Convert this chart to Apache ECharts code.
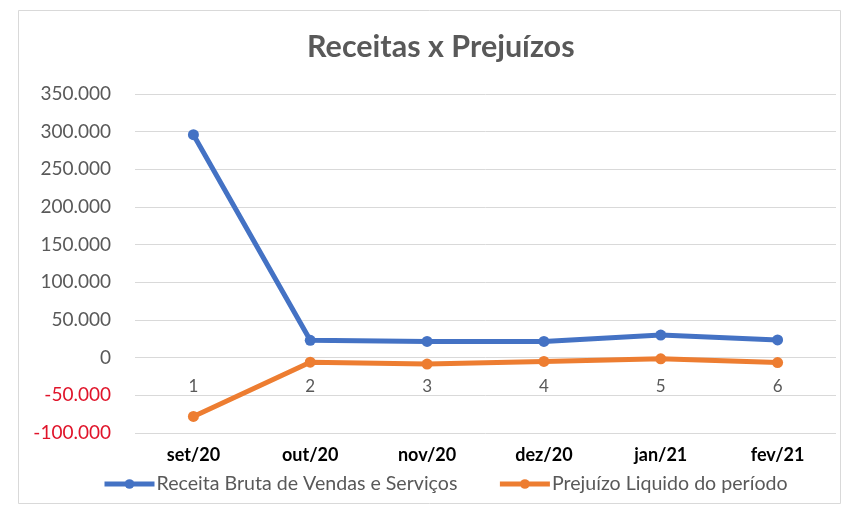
<!DOCTYPE html>
<html>
<head>
<meta charset="utf-8">
<script src="https://cdn.jsdelivr.net/npm/echarts@6/dist/echarts.min.js"></script>
<style>
  html, body { margin: 0; padding: 0; background: #ffffff; }
  #chart { width: 847px; height: 510px; }
</style>
</head>
<body>
<div id="chart"></div>
<script>
// Category index labels (shown at the zero line) and month labels (below the plot)
const indices = ['1', '2', '3', '4', '5', '6'];
const months = ['set/20', 'out/20', 'nov/20', 'dez/20', 'jan/21', 'fev/21'];

// Series values
const receitaBruta = [296000, 23000, 21500, 21500, 30000, 23500];
const prejuizoLiquido = [-78000, -6000, -8500, -5000, -1500, -6500];

// Y axis range
const yMin = -100000;
const yMax = 350000;
const yStep = 50000;

const FONT = 'Lato, "Open Sans", sans-serif';
const GRAY = '#595959';
const GRID = '#d9d9d9';

function fmt(v) {
  const s = String(Math.abs(v)).replace(/\B(?=(\d{3})+(?!\d))/g, '.');
  return v < 0 ? '-' + s : s;
}

const CHART_H = 510;
const plotRect = { left: 135, right: 11, top: 94, bottom: 77, containLabel: false };
const plotH = CHART_H - plotRect.top - plotRect.bottom;
// distance from the bottom edge of the plot up to the zero line
const zeroLift = (0 - yMin) / (yMax - yMin) * plotH;

const chart = echarts.init(document.getElementById('chart'), null, { renderer: 'canvas' });

chart.setOption({
  backgroundColor: '#ffffff',
  animation: false,
  title: {
    text: 'Receitas x Prejuízos',
    left: 302,
    top: 27,
    textStyle: { fontFamily: FONT, fontSize: 30.5, fontWeight: 'bold', color: GRAY }
  },
  graphic: [{
    type: 'rect',
    shape: { x: 18.5, y: 10.5, width: 822, height: 493 },
    style: { fill: 'none', stroke: '#d9d9d9', lineWidth: 1 },
    silent: true
  }],
  legend: {
    top: 469,
    left: 97,
    itemWidth: 50,
    itemHeight: 12,
    itemGap: 40,
    lineStyle: { width: 5 },
    textStyle: { fontFamily: FONT, fontSize: 19.6, color: GRAY, padding: [0, 0, 0, -3] },
    data: ['Receita Bruta de Vendas e Serviços', 'Prejuízo Liquido do período']
  },
  grid: plotRect,
  xAxis: [
    {
      // index labels sitting just under the zero line
      type: 'category',
      data: indices,
      position: 'bottom',
      offset: -zeroLift,
      boundaryGap: true,
      axisLine: { show: false, onZero: false },
      axisTick: { show: false },
      axisLabel: { fontFamily: FONT, fontSize: 17, color: GRAY, margin: 20 }
    },
    {
      // month labels under the plot
      type: 'category',
      data: months,
      position: 'bottom',
      offset: 0,
      boundaryGap: true,
      axisLine: { show: false, onZero: false },
      axisTick: { show: false },
      axisLabel: { fontFamily: FONT, fontSize: 18, fontWeight: 'bold', color: '#000000', margin: 13 }
    }
  ],
  yAxis: {
    type: 'value',
    min: yMin,
    max: yMax,
    interval: yStep,
    axisLine: { show: false },
    axisTick: { show: false },
    splitLine: { lineStyle: { color: GRID, width: 1 } },
    axisLabel: {
      margin: 24,
      formatter: v => (v < 0 ? '{neg|' + fmt(v) + '}' : '{pos|' + fmt(v) + '}'),
      rich: {
        pos: { fontFamily: FONT, fontSize: 19, color: GRAY },
        neg: { fontFamily: FONT, fontSize: 19, color: '#e0142a' }
      }
    }
  },
  series: [
    {
      name: 'Receita Bruta de Vendas e Serviços',
      type: 'line',
      xAxisIndex: 0,
      data: receitaBruta,
      color: '#4472c4',
      lineStyle: { width: 5, color: '#4472c4' },
      symbol: 'circle',
      symbolSize: 11,
      itemStyle: { color: '#4472c4' }
    },
    {
      name: 'Prejuízo Liquido do período',
      type: 'line',
      xAxisIndex: 0,
      data: prejuizoLiquido,
      color: '#ed7d31',
      lineStyle: { width: 5, color: '#ed7d31' },
      symbol: 'circle',
      symbolSize: 11,
      itemStyle: { color: '#ed7d31' }
    }
  ]
});
</script>
</body>
</html>
